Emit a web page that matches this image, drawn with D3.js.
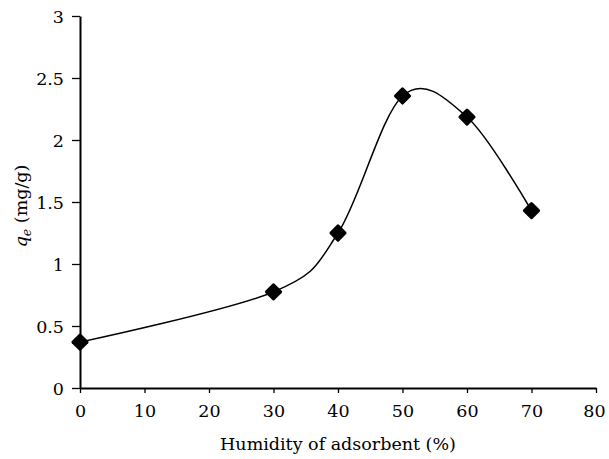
<!DOCTYPE html>
<html>
<head>
<meta charset="utf-8">
<script src="https://cdn.jsdelivr.net/npm/d3@7"></script>
<style>
  body { margin: 0; background: #fff; }
  svg text { font-family: "DejaVu Serif", serif; fill: #000; }
</style>
</head>
<body>
<svg id="chart" width="609" height="459"></svg>
<script>
// humidity (%) vs adsorbed amount qe (mg/g)
const humidity = [0, 30, 40, 50, 60, 70];
const qe = [0.37, 0.775, 1.25, 2.355, 2.185, 1.43];
const xTicks = [0, 10, 20, 30, 40, 50, 60, 70, 80];
const yTicks = [0, 0.5, 1, 1.5, 2, 2.5, 3];

const [w, h] = [609, 459];
const margin = {top: 16, right: 13, bottom: 71, left: 80};
const fontSize = 17.5;

const svg = d3.select('#chart');

const x = d3.scaleLinear().domain([0, 80]).range([margin.left, w - margin.right]);
const y = d3.scaleLinear().domain([0, 3]).range([h - margin.bottom, margin.top]);

// axes
const xAxis = d3.axisBottom(x).tickValues(xTicks).tickSizeInner(5).tickSizeOuter(0).tickPadding(12);
const yAxis = d3.axisLeft(y).tickValues(yTicks).tickFormat(d => d).tickSizeInner(8).tickSizeOuter(0).tickPadding(8);

const gx = svg.append('g').attr('transform', `translate(0,${y(0)})`).call(xAxis);
const gy = svg.append('g').attr('transform', `translate(${x(0)},0)`).call(yAxis);

[gx, gy].forEach(g => {
  g.attr('font-family', null).attr('font-size', fontSize);
  g.select('.domain').attr('stroke', '#000').attr('stroke-width', 2);
  g.selectAll('.tick line').attr('stroke', '#000').attr('stroke-width', 1.3);
});
gy.selectAll('.tick text').attr('dy', '0.35em');
// keep the last label inside the picture
gx.selectAll('.tick text').filter(d => d === 80).attr('dx', -2);

// smoothed line through the points
const line = d3.line()
  .x((d, i) => x(humidity[i]))
  .y(d => y(d))
  .curve(d3.curveCardinal.tension(0));

svg.append('path')
  .datum(qe)
  .attr('d', line)
  .attr('fill', 'none')
  .attr('stroke', '#000')
  .attr('stroke-width', 1.5);

// diamond markers
svg.selectAll('rect.marker')
  .data(qe)
  .enter().append('rect')
  .attr('class', 'marker')
  .attr('x', -6.5).attr('y', -6.5)
  .attr('width', 13).attr('height', 13)
  .attr('rx', 1.5)
  .attr('fill', '#000')
  .attr('transform', (d, i) => `translate(${x(humidity[i])},${y(d)}) rotate(45)`);

// axis titles
svg.append('text')
  .attr('x', (x(0) + x(80)) / 2)
  .attr('y', 450)
  .attr('text-anchor', 'middle')
  .attr('font-size', fontSize)
  .text('Humidity of adsorbent (%)');

const yl = svg.append('text')
  .attr('transform', 'translate(27,206) rotate(-90)')
  .attr('text-anchor', 'middle')
  .attr('font-size', fontSize);
yl.append('tspan').attr('font-style', 'italic').text('q');
yl.append('tspan').attr('font-style', 'italic').attr('font-size', 12.5).attr('dy', 4).text('e');
yl.append('tspan').attr('dy', -4).text(' (mg/g)');
</script>
</body>
</html>
